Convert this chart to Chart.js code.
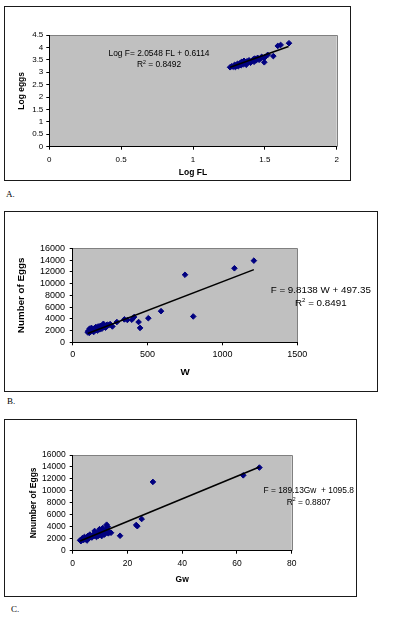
<!DOCTYPE html>
<html><head><meta charset="utf-8">
<script src="https://cdn.jsdelivr.net/npm/chart.js@4/dist/chart.umd.min.js"></script>
<style>
html,body{margin:0;padding:0;background:#fff;width:396px;height:621px;overflow:hidden;position:relative}
.box{position:absolute}
.lbl{position:absolute;font:9px "Liberation Serif","Times New Roman",serif;color:#000;line-height:1}
</style></head><body>
<div class="box" style="left:4px;top:6px;width:347px;height:175px"><canvas id="cA"></canvas></div>
<div class="lbl" style="left:6px;top:190px">A.</div>
<div class="box" style="left:4px;top:211px;width:374px;height:181px"><canvas id="cB"></canvas></div>
<div class="lbl" style="left:7px;top:397px">B.</div>
<div class="box" style="left:4px;top:419px;width:353px;height:178px"><canvas id="cC"></canvas></div>
<div class="lbl" style="left:11px;top:605px">C.</div>
<script>
// ---- Chart A: Log eggs vs Log FL ----
const logFL   = [1.258,1.27,1.28,1.29,1.295,1.30,1.31,1.315,1.32,1.33,1.335,1.34,1.35,1.355,1.36,1.37,1.375,1.38,1.39,1.40,1.41,1.42,1.425,1.43,1.44,1.45,1.46,1.47,1.478,1.49,1.496,1.50,1.52,1.559,1.59,1.61,1.668];
const logEggs = [3.20,3.24,3.22,3.30,3.21,3.26,3.34,3.24,3.30,3.38,3.28,3.42,3.32,3.46,3.36,3.30,3.44,3.40,3.48,3.38,3.46,3.52,3.42,3.55,3.48,3.58,3.50,3.56,3.62,3.58,3.40,3.60,3.70,3.65,4.06,4.10,4.17];
const trendA_x = [1.258, 1.665];
const trendA_y = [3.196, 4.032];
const ticksA_x = [0, 2, 0.5];      // min, max, step
const ticksA_y = [0, 4.5, 0.5];
const eqA = ["Log F= 2.0548 FL + 0.6114", "0.8492"];

// ---- Chart B: Number of eggs vs W ----
const weightW = [100,105,110,112,118,120,125,130,135,140,145,150,155,160,165,170,175,180,185,190,195,200,205,210,215,220,230,240,250,265,295,345,365,395,410,440,450,505,590,750,805,1080,1210];
const eggsW   = [1700,1950,1600,2300,2100,1800,2450,2000,2200,1750,2400,2100,2600,2300,2000,2700,2400,2200,2800,2500,2300,2900,3150,2600,2800,2500,3000,2900,3100,2700,3450,3900,3800,3850,4300,3450,2450,4100,5300,11500,4400,12600,13900];
const trendB_x = [100, 1210];
const trendB_y = [1480, 12370];
const ticksB_x = [0, 1500, 500];
const ticksB_y = [0, 16000, 2000];
const eqB = ["F = 9.8138 W + 497.35", "0.8491"];

// ---- Chart C: Number of eggs vs Gw ----
const gonadGw = [2.7,3,3.3,3.6,4,4.3,4.6,5,5.2,5.6,6,6.3,6.6,7,7.3,7.8,8,8.3,8.7,9,9.4,9.8,10,10.3,10.6,11,11.3,11.6,12,12.4,12.8,13,13.5,14,17.3,23.2,23.6,25.2,29.3,62.3,68.2];
const eggsGw  = [1750,1600,1950,2100,1800,2300,2000,2200,1700,2500,2100,2700,2300,2200,2600,2450,3300,2800,2300,3000,2500,3600,2800,3300,2450,3800,3100,2700,3400,4350,4000,2900,3100,3000,2500,4300,4100,5300,11500,12600,13900];
const trendC_x = [2.7, 68.2];
const trendC_y = [1607, 13994];
const ticksC_x = [0, 80, 20];
const ticksC_y = [0, 16000, 2000];
const eqC = ["F = 189.13Gw  + 1095.8", "0.8807"];

const FAM = '"Liberation Sans", Arial, sans-serif';
const zip = (a, b) => a.map((v, i) => ({x: v, y: b[i]}));

function makeChart(id, o) {
  const plotBg = {
    id: 'plotBg',
    beforeDraw(ch) {
      const c = ch.ctx, a = ch.chartArea;
      c.save();
      c.fillStyle = '#fff';
      c.fillRect(0, 0, ch.width, ch.height);
      c.fillStyle = '#c0c0c0';
      c.fillRect(a.left, a.top, a.right - a.left, a.bottom - a.top);
      c.strokeStyle = '#808080';
      c.lineWidth = 1;
      c.beginPath();
      c.moveTo(a.left, Math.round(a.top) + 0.5);
      c.lineTo(Math.round(a.right) + 0.5, Math.round(a.top) + 0.5);
      c.lineTo(Math.round(a.right) + 0.5, a.bottom);
      c.stroke();
      c.strokeStyle = '#1a1a1a';
      c.strokeRect(0.5, 0.5, ch.width - 1, ch.height - 1);
      c.restore();
    },
    afterDraw(ch) {
      const c = ch.ctx, a = ch.chartArea;
      const fs = o.annFont;
      c.save();
      c.fillStyle = '#000';
      c.textBaseline = 'middle';
      c.font = fs + 'px ' + FAM;
      c.textAlign = 'center';
      const cx = a.left + o.ann[0];
      c.fillText(o.eq[0], cx, a.top + o.ann[1]);
      // R² line
      const sFont = (fs * 0.62) + 'px ' + FAM;
      const rest = ' = ' + o.eq[1];
      c.font = fs + 'px ' + FAM;
      const wR = c.measureText('R').width, wRest = c.measureText(rest).width;
      c.font = sFont;
      const w2 = c.measureText('2').width;
      let x = cx - (wR + w2 + wRest) / 2;
      const y = a.top + o.ann[2];
      c.textAlign = 'left';
      c.font = fs + 'px ' + FAM;
      c.fillText('R', x, y); x += wR;
      c.font = sFont;
      c.fillText('2', x, y - fs * 0.33); x += w2;
      c.font = fs + 'px ' + FAM;
      c.fillText(rest, x, y);
      c.restore();
    }
  };
  const fmt = v => String(+Number(v).toFixed(3));
  return new Chart(document.getElementById(id), {
    type: 'scatter',
    data: {
      datasets: [
        {data: zip(o.tx, o.ty), showLine: true, borderColor: '#000', borderWidth: 1.6,
         pointRadius: 0, fill: false},
        {data: zip(o.xs, o.ys), pointStyle: 'rectRot', pointRadius: 2.8,
         backgroundColor: '#000080', borderColor: '#000080', borderWidth: 1}
      ]
    },
    options: {
      responsive: true, maintainAspectRatio: false, animation: false,
      devicePixelRatio: 1,
      layout: {padding: {left: 0, top: o.padTop, right: o.padRight, bottom: 0}},
      plugins: {legend: {display: false}, tooltip: {enabled: false}},
      scales: {
        x: {
          type: 'linear', min: o.xt[0], max: o.xt[1],
          ticks: {stepSize: o.xt[2], color: '#000', padding: o.xTickPad, callback: fmt,
                  autoSkip: false, maxRotation: 0, minRotation: 0,
                  font: {family: FAM, size: o.tickFont, lineHeight: 1.2}},
          grid: {display: true, drawOnChartArea: false, drawTicks: true, tickLength: 3, color: '#000'},
          border: {display: true, color: '#000', width: 1},
          title: {display: true, text: o.xTitle, color: '#000',
                  font: {family: FAM, size: o.titleFont, weight: 'bold', lineHeight: 1.2},
                  padding: {top: 0, bottom: o.xTitlePad}},
          afterFit: s => { s.height = o.xH; }
        },
        y: {
          type: 'linear', min: o.yt[0], max: o.yt[1],
          ticks: {stepSize: o.yt[2], color: '#000', padding: o.yTickPad, callback: fmt,
                  autoSkip: false,
                  font: {family: FAM, size: o.tickFont, lineHeight: 1.2}},
          grid: {display: true, drawOnChartArea: false, drawTicks: true, tickLength: 3, color: '#000'},
          border: {display: true, color: '#000', width: 1},
          title: {display: true, text: o.yTitle, color: '#000',
                  font: {family: FAM, size: o.titleFont, weight: 'bold', lineHeight: 1.2},
                  padding: {top: o.yTitlePad, bottom: 0}},
          afterFit: s => { s.width = o.yW; }
        }
      }
    },
    plugins: [plotBg]
  });
}

makeChart('cA', {
  xs: logFL, ys: logEggs, tx: trendA_x, ty: trendA_y, xt: ticksA_x, yt: ticksA_y,
  xTitle: 'Log FL', yTitle: 'Log eggs', eq: eqA,
  padTop: 29, padRight: 14.3, yW: 45.3, xH: 34.3,
  tickFont: 8, titleFont: 8.5, annFont: 8.4,
  xTickPad: 4.8, yTickPad: 3, xTitlePad: 3.6, yTitlePad: 12.6,
  ann: [109.7, 18.3, 30]
});
makeChart('cB', {
  xs: weightW, ys: eggsW, tx: trendB_x, ty: trendB_y, xt: ticksB_x, yt: ticksB_y,
  xTitle: 'W', yTitle: 'Number of Eggs', eq: eqB,
  padTop: 37.3, padRight: 80.7, yW: 68.7, xH: 49.7,
  tickFont: 9, titleFont: 9.8, annFont: 9.8,
  xTickPad: 4.2, yTickPad: 4.7, xTitlePad: 13.4, yTitlePad: 11.8,
  ann: [248.1, 42.4, 55.4]
});
makeChart('cC', {
  xs: gonadGw, ys: eggsGw, tx: trendC_x, ty: trendC_y, xt: ticksC_x, yt: ticksC_y,
  xTitle: 'Gw', yTitle: 'Nnumber of Eggs', eq: eqC,
  padTop: 36, padRight: 65.3, yW: 68.7, xH: 46.3,
  tickFont: 8.5, titleFont: 8.5, annFont: 8.4,
  xTickPad: 4.8, yTickPad: 4, xTitlePad: 12.6, yTitlePad: 24.2,
  ann: [236, 36, 47.3]
});
</script>
</body></html>
